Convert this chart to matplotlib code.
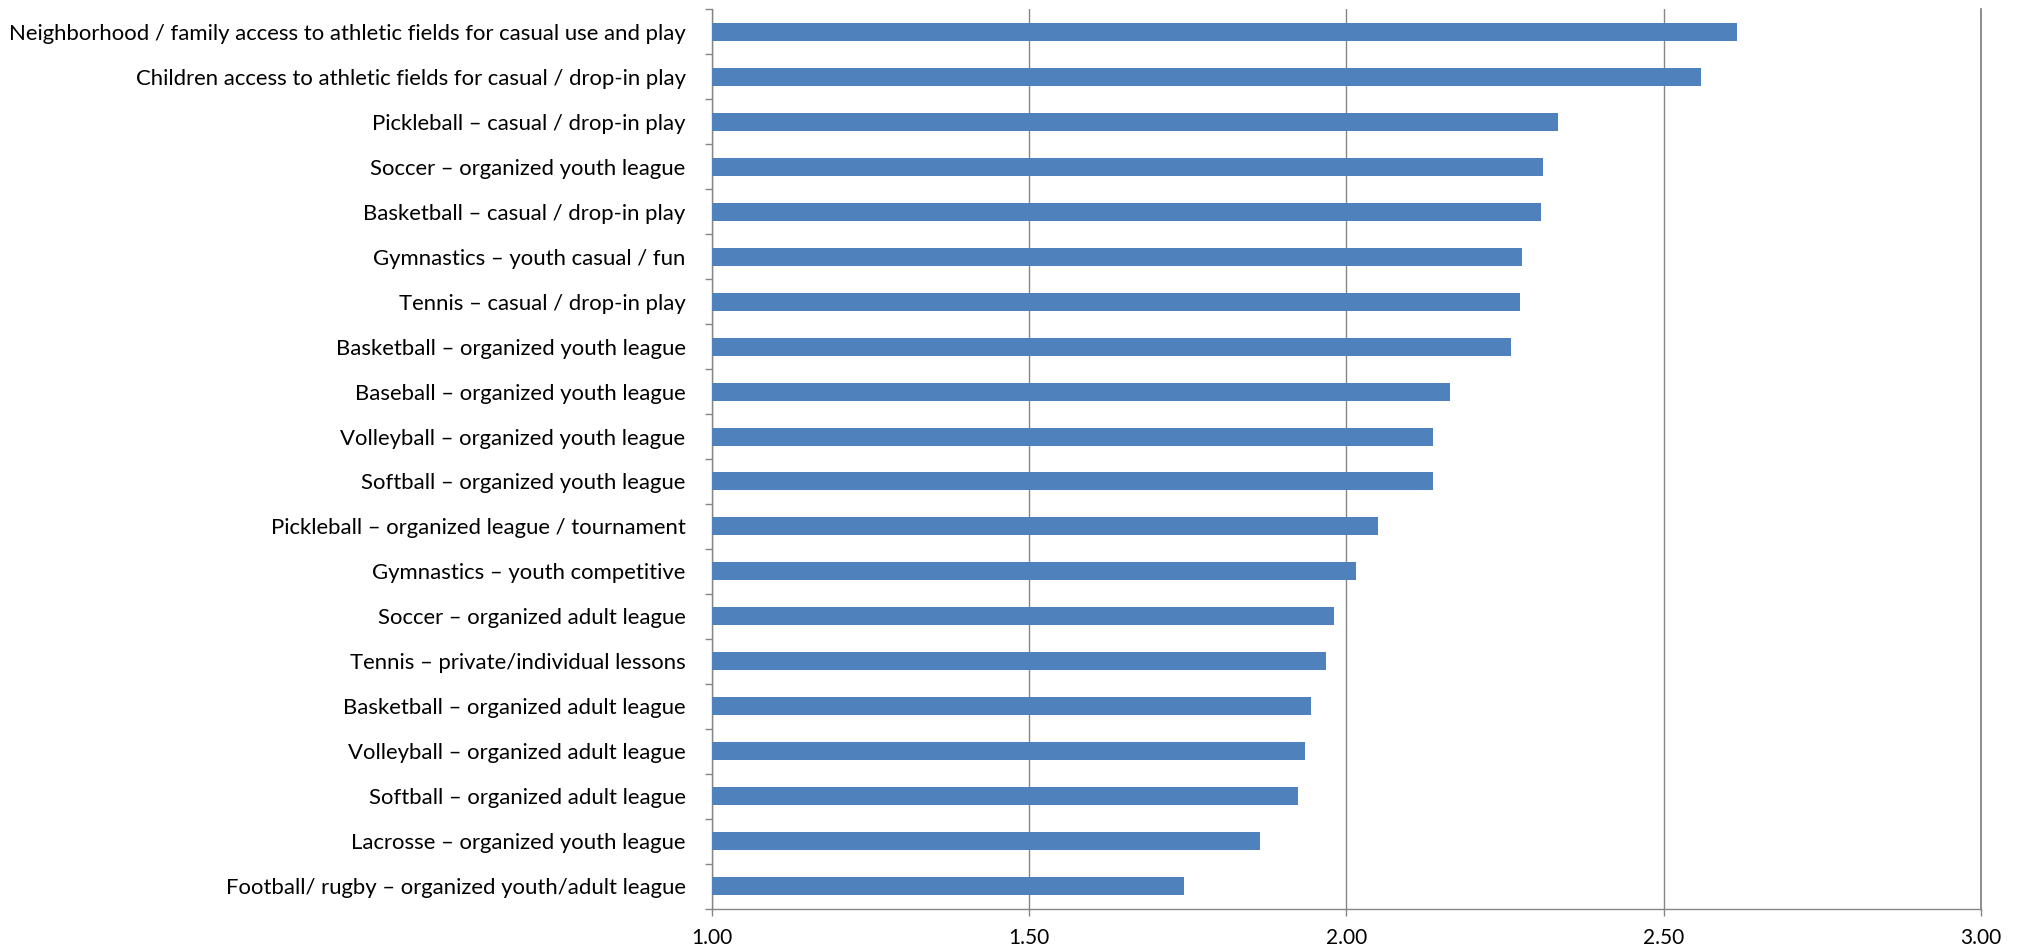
import numpy as np
import matplotlib
matplotlib.use("Agg")
import matplotlib.pyplot as plt

categories = [
    "Neighborhood / family access to athletic fields for casual use and play",
    "Children access to athletic fields for casual / drop-in play",
    "Pickleball \u2013 casual / drop-in play",
    "Soccer \u2013 organized youth league",
    "Basketball \u2013 casual / drop-in play",
    "Gymnastics \u2013 youth casual / fun",
    "Tennis \u2013 casual / drop-in play",
    "Basketball \u2013 organized youth league",
    "Baseball \u2013 organized youth league",
    "Volleyball \u2013 organized youth league",
    "Softball \u2013 organized youth league",
    "Pickleball \u2013 organized league / tournament",
    "Gymnastics \u2013 youth competitive",
    "Soccer \u2013 organized adult league",
    "Tennis \u2013 private/individual lessons",
    "Basketball \u2013 organized adult league",
    "Volleyball \u2013 organized adult league",
    "Softball \u2013 organized adult league",
    "Lacrosse \u2013 organized youth league",
    "Football/ rugby \u2013 organized youth/adult league",
]
scores = [2.616, 2.559, 2.334, 2.310, 2.306, 2.276, 2.274, 2.259, 2.163, 2.137,
          2.136, 2.050, 2.015, 1.980, 1.967, 1.944, 1.935, 1.924, 1.863, 1.744]
x_ticks = [1.00, 1.50, 2.00, 2.50, 3.00]

plt.rcParams["font.family"] = ["Lato", "DejaVu Sans"]

fig = plt.figure(figsize=(20.21, 9.51), dpi=100)
ax = fig.add_axes([0.3523, 0.0442, 0.9802 - 0.3523, 0.9905 - 0.0442])

y = np.arange(len(categories))
base = x_ticks[0]
ax.barh(y, np.array(scores) - base, left=base, height=0.4, color="#4F81BD", zorder=3)

ax.set_ylim(len(categories) - 0.5, -0.5)
ax.set_xlim(x_ticks[0], x_ticks[-1])

ax.set_xticks(x_ticks)
ax.set_xticklabels([f"{v:.2f}" for v in x_ticks], fontsize=15)
ax.set_yticks(y)
ax.set_yticklabels(categories, fontsize=15.9)
ax.set_yticks(np.arange(len(categories) + 1) - 0.5, minor=True)

ax.tick_params(axis="y", which="major", length=0, pad=19)
ax.tick_params(axis="y", which="minor", length=5, color="#868686", width=1)
ax.tick_params(axis="x", length=5, color="#868686", width=1, pad=9, direction="out")

ax.grid(axis="x", color="#868686", linewidth=1, zorder=0)
ax.axvline(x_ticks[-1], color="#868686", linewidth=1.3, clip_on=False, zorder=0)
for s in ["top", "right"]:
    ax.spines[s].set_visible(False)
for s in ["left", "bottom"]:
    ax.spines[s].set_color("#868686")
    ax.spines[s].set_linewidth(1)

fig.savefig("out.png", dpi=100)
